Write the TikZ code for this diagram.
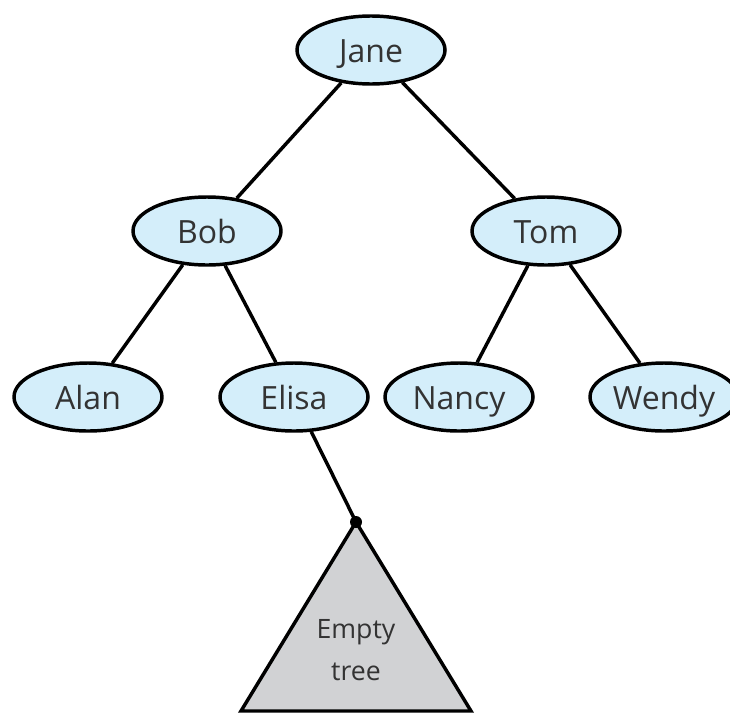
\documentclass[tikz,border=0pt]{standalone}
\usepackage{fontspec}
\setmainfont{Open Sans}
\usetikzlibrary{shapes.geometric}
\definecolor{nodeblue}{HTML}{D4EEFA}
\definecolor{treegray}{HTML}{D1D2D4}
\definecolor{txt}{HTML}{333333}
\begin{document}
\begin{tikzpicture}[x=0.75pt,y=-0.75pt,
  person/.style={ellipse,draw=black,line width=2.6pt,fill=nodeblue,
    minimum width=111pt,minimum height=51pt,inner sep=0pt,
    text height=18pt,text depth=0pt,
    font=\fontsize{24}{28}\selectfont,text=txt},
  edge/.style={draw=black,line width=2.6pt}]
\useasboundingbox (0,0) rectangle (730,714);
\node[person] (jane) at (371,50) {Jane};
\node[person] (bob) at (207,231) {Bob};
\node[person] (tom) at (546,231) {Tom};
\node[person] (alan) at (88,397) {Alan};
\node[person] (elisa) at (294,397) {Elisa};
\node[person] (nancy) at (459,397) {Nancy};
\node[person] (wendy) at (664,397) {Wendy};
\coordinate (apex) at (356,522);
\coordinate (bl) at (241,711);
\coordinate (br) at (471,711);
\draw[line width=2.6pt,fill=treegray,line join=miter] (apex) -- (br) -- (bl) -- cycle;
\node[text=txt,font=\fontsize{20}{32}\selectfont,align=center] (label) at (356,650) {Empty\\tree};
\draw[edge] (jane) -- (bob);
\draw[edge] (jane) -- (tom);
\draw[edge] (bob) -- (alan);
\draw[edge] (bob) -- (elisa);
\draw[edge] (tom) -- (nancy);
\draw[edge] (tom) -- (wendy);
\draw[edge] (elisa) -- (apex);
\fill (apex) circle (6);
\end{tikzpicture}
\end{document}
